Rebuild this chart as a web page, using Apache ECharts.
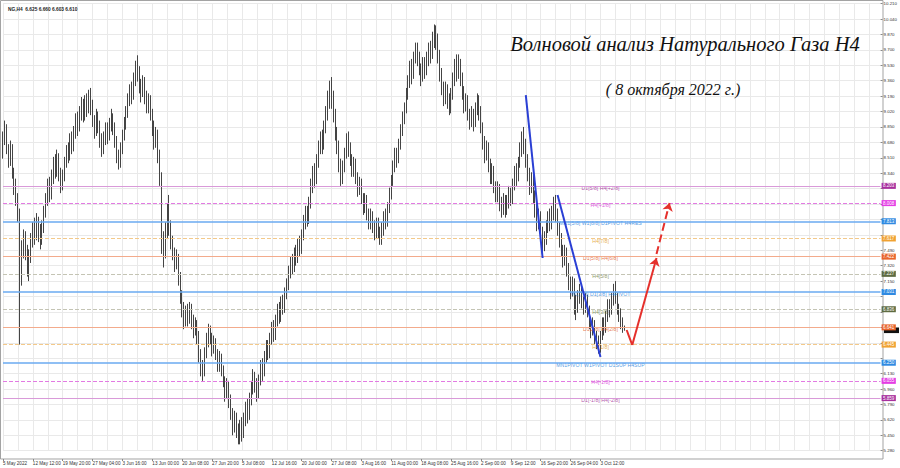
<!DOCTYPE html>
<html><head><meta charset="utf-8">
<script src="https://cdn.jsdelivr.net/npm/echarts@6/dist/echarts.min.js"></script>
<style>html,body{margin:0;padding:0;background:#fff}#c{width:900px;height:468px}</style>
</head><body><div id="c"></div>
<script>
const header = "NG,H4  6.625 6.660 6.603 6.610";
const titleText = "Волновой анализ Натурального Газа H4";
const subtitleText = "( 8 октября 2022 г.)";
const tickLabels = ["5 May 2022","12 May 12:00","19 May 20:00","27 May 04:00","3 Jun 16:00","13 Jun 00:00","20 Jun 08:00","27 Jun 20:00","5 Jul 08:00","12 Jul 16:00","20 Jul 00:00","27 Jul 08:00","3 Aug 16:00","11 Aug 00:00","18 Aug 08:00","25 Aug 16:00","2 Sep 00:00","9 Sep 12:00","16 Sep 20:00","26 Sep 04:00","3 Oct 12:00"];
const barsPerLabel = 16;
const slotCount = 471;

const opens = [
8.55,8.72,8.85,8.60,8.48,8.62,8.35,8.20,8.05,7.90,
7.20,7.45,7.60,7.48,7.30,7.42,7.60,7.72,7.65,7.78,
7.70,7.62,7.75,7.90,8.05,8.20,8.12,8.30,8.45,8.38,
8.50,8.35,8.22,8.30,8.45,8.58,8.52,8.70,8.62,8.78,
8.92,8.85,9.00,9.10,8.98,9.12,9.05,9.18,9.08,8.92,
8.80,8.95,8.85,8.70,8.60,8.72,8.82,8.75,8.88,8.95,
8.85,8.70,8.55,8.45,8.60,8.75,8.90,9.00,9.15,9.25,
9.20,9.38,9.50,9.45,9.30,9.22,9.35,9.20,9.08,9.15,
9.00,8.85,8.70,8.78,8.55,8.30,7.60,7.45,7.70,7.85,
7.75,7.60,7.45,7.35,7.42,7.20,7.00,6.85,6.70,6.80,
6.75,6.85,6.72,6.60,6.68,6.55,6.35,6.20,6.15,6.35,
6.50,6.60,6.52,6.40,6.48,6.35,6.22,6.30,6.18,6.05,
5.90,6.00,5.85,5.70,5.55,5.65,5.50,5.40,5.55,5.48,
5.62,5.75,5.68,5.85,5.98,6.10,6.02,5.90,6.05,6.20,
6.15,6.30,6.42,6.35,6.50,6.62,6.55,6.70,6.82,6.75,
6.90,6.85,7.00,7.10,7.25,7.35,7.30,7.45,7.40,7.55,
7.50,7.65,7.80,7.90,7.82,8.00,8.20,8.35,8.28,8.45,
8.62,8.70,8.65,8.85,9.00,9.15,9.28,9.20,9.00,8.80,
8.65,8.45,8.30,8.40,8.55,8.70,8.62,8.50,8.38,8.45,
8.30,8.15,8.22,8.08,7.95,8.05,7.90,7.80,7.88,7.75,
7.68,7.78,7.70,7.62,7.72,7.85,7.80,7.95,8.10,8.25,
8.40,8.55,8.48,8.65,8.80,8.95,9.05,9.20,9.35,9.50,
9.42,9.60,9.72,9.62,9.50,9.40,9.55,9.48,9.60,9.70,
9.65,9.80,9.90,9.82,9.65,9.45,9.30,9.18,9.28,9.15,
9.05,9.20,9.38,9.52,9.45,9.55,9.40,9.25,9.10,9.15,
9.00,8.90,9.00,8.88,9.05,9.15,9.02,8.85,8.70,8.55,
8.62,8.45,8.30,8.38,8.20,8.10,8.18,8.00,7.95,8.05,
7.92,8.02,8.12,8.05,8.20,8.35,8.28,8.45,8.60,8.72,
8.65,8.50,8.35,8.20,8.28,8.10,7.95,7.80,7.88,7.70,
7.55,7.62,7.75,7.85,7.78,7.90,8.00,7.88,7.75,7.62,
7.50,7.40,7.48,7.30,7.15,7.05,7.12,6.95,6.85,6.98,
7.05,6.92,6.85,6.95,6.82,6.70,6.62,6.68,6.55,6.48,
6.42,6.55,6.68,6.62,6.75,6.88,6.82,6.95,7.05,6.98,
6.85,6.78,6.70,6.625];
const closes = [
8.72,8.85,8.60,8.48,8.62,8.35,8.20,8.05,7.90,7.20,
7.45,7.60,7.48,7.30,7.42,7.60,7.72,7.65,7.78,7.70,
7.62,7.75,7.90,8.05,8.20,8.12,8.30,8.45,8.38,8.50,
8.35,8.22,8.30,8.45,8.58,8.52,8.70,8.62,8.78,8.92,
8.85,9.00,9.10,8.98,9.12,9.05,9.18,9.08,8.92,8.80,
8.95,8.85,8.70,8.60,8.72,8.82,8.75,8.88,8.95,8.85,
8.70,8.55,8.45,8.60,8.75,8.90,9.00,9.15,9.25,9.20,
9.38,9.50,9.45,9.30,9.22,9.35,9.20,9.08,9.15,9.00,
8.85,8.70,8.78,8.55,8.30,7.60,7.45,7.70,7.85,7.75,
7.60,7.45,7.35,7.42,7.20,7.00,6.85,6.70,6.80,6.75,
6.85,6.72,6.60,6.68,6.55,6.35,6.20,6.15,6.35,6.50,
6.60,6.52,6.40,6.48,6.35,6.22,6.30,6.18,6.05,5.90,
6.00,5.85,5.70,5.55,5.65,5.50,5.40,5.55,5.48,5.62,
5.75,5.68,5.85,5.98,6.10,6.02,5.90,6.05,6.20,6.15,
6.30,6.42,6.35,6.50,6.62,6.55,6.70,6.82,6.75,6.90,
6.85,7.00,7.10,7.25,7.35,7.30,7.45,7.40,7.55,7.50,
7.65,7.80,7.90,7.82,8.00,8.20,8.35,8.28,8.45,8.62,
8.70,8.65,8.85,9.00,9.15,9.28,9.20,9.00,8.80,8.65,
8.45,8.30,8.40,8.55,8.70,8.62,8.50,8.38,8.45,8.30,
8.15,8.22,8.08,7.95,8.05,7.90,7.80,7.88,7.75,7.68,
7.78,7.70,7.62,7.72,7.85,7.80,7.95,8.10,8.25,8.40,
8.55,8.48,8.65,8.80,8.95,9.05,9.20,9.35,9.50,9.42,
9.60,9.72,9.62,9.50,9.40,9.55,9.48,9.60,9.70,9.65,
9.80,9.90,9.82,9.65,9.45,9.30,9.18,9.28,9.15,9.05,
9.20,9.38,9.52,9.45,9.55,9.40,9.25,9.10,9.15,9.00,
8.90,9.00,8.88,9.05,9.15,9.02,8.85,8.70,8.55,8.62,
8.45,8.30,8.38,8.20,8.10,8.18,8.00,7.95,8.05,7.92,
8.02,8.12,8.05,8.20,8.35,8.28,8.45,8.60,8.72,8.65,
8.50,8.35,8.20,8.28,8.10,7.95,7.80,7.88,7.70,7.55,
7.62,7.75,7.85,7.78,7.90,8.00,7.88,7.75,7.62,7.50,
7.40,7.48,7.30,7.15,7.05,7.12,6.95,6.85,6.98,7.05,
6.92,6.85,6.95,6.82,6.70,6.62,6.68,6.55,6.48,6.42,
6.55,6.68,6.62,6.75,6.88,6.82,6.95,7.05,6.98,6.85,
6.78,6.70,6.62,6.61];
const lows = [
8.50,8.65,8.55,8.40,8.42,8.28,8.10,7.98,7.80,6.45,
7.10,7.40,7.38,7.20,7.15,7.35,7.52,7.55,7.60,7.58,
7.50,7.55,7.68,7.85,7.98,8.02,8.05,8.22,8.28,8.30,
8.25,8.12,8.15,8.25,8.40,8.45,8.48,8.55,8.58,8.72,
8.75,8.80,8.92,8.90,8.92,8.96,9.00,8.98,8.85,8.72,
8.75,8.78,8.62,8.52,8.55,8.65,8.66,8.70,8.80,8.76,
8.62,8.45,8.38,8.40,8.55,8.70,8.82,8.95,9.08,9.10,
9.15,9.30,9.35,9.22,9.12,9.18,9.10,9.00,9.00,8.92,
8.75,8.60,8.62,8.45,8.20,7.45,7.30,7.40,7.62,7.65,
7.50,7.38,7.25,7.28,7.10,6.90,6.75,6.62,6.65,6.65,
6.68,6.62,6.52,6.55,6.45,6.25,6.10,6.05,6.10,6.30,
6.42,6.45,6.32,6.35,6.28,6.15,6.15,6.10,5.98,5.82,
5.85,5.75,5.62,5.45,5.48,5.42,5.35,5.35,5.38,5.42,
5.55,5.58,5.62,5.78,5.90,5.92,5.82,5.85,6.00,6.05,
6.10,6.25,6.28,6.30,6.45,6.48,6.50,6.65,6.68,6.70,
6.78,6.80,6.95,7.05,7.18,7.22,7.25,7.32,7.35,7.42,
7.45,7.60,7.72,7.75,7.78,7.95,8.12,8.18,8.22,8.40,
8.55,8.55,8.60,8.78,8.92,9.05,9.05,8.90,8.70,8.55,
8.35,8.20,8.22,8.35,8.50,8.52,8.42,8.30,8.30,8.22,
8.08,8.10,8.00,7.88,7.90,7.82,7.72,7.72,7.68,7.60,
7.62,7.62,7.55,7.55,7.65,7.72,7.75,7.90,8.05,8.20,
8.35,8.40,8.45,8.60,8.75,8.88,9.00,9.15,9.28,9.32,
9.38,9.55,9.52,9.42,9.30,9.35,9.38,9.42,9.52,9.55,
9.60,9.72,9.70,9.55,9.35,9.20,9.08,9.10,9.05,8.98,
9.00,9.15,9.30,9.35,9.38,9.30,9.15,9.00,9.02,8.92,
8.82,8.85,8.80,8.85,8.98,8.92,8.78,8.60,8.45,8.48,
8.35,8.22,8.22,8.12,8.02,8.02,7.92,7.85,7.88,7.85,
7.88,7.95,7.98,8.00,8.15,8.20,8.25,8.40,8.52,8.55,
8.40,8.25,8.10,8.12,8.00,7.85,7.70,7.72,7.60,7.45,
7.48,7.55,7.68,7.70,7.72,7.82,7.80,7.65,7.52,7.42,
7.30,7.32,7.20,7.05,6.95,6.98,6.78,6.72,6.80,6.90,
6.85,6.78,6.80,6.75,6.62,6.52,6.55,6.45,6.40,6.35,
6.36,6.50,6.55,6.58,6.70,6.75,6.78,6.88,6.90,6.78,
6.70,6.62,6.58,6.603];
const highs = [
8.80,8.92,8.88,8.66,8.70,8.66,8.40,8.28,8.12,7.95,
7.60,7.72,7.70,7.55,7.50,7.68,7.80,7.85,7.90,7.86,
7.78,7.82,7.98,8.12,8.28,8.30,8.38,8.52,8.55,8.60,
8.56,8.40,8.38,8.52,8.65,8.68,8.78,8.80,8.86,9.00,
9.02,9.08,9.18,9.16,9.20,9.22,9.26,9.28,9.15,8.98,
9.05,9.02,8.92,8.78,8.80,8.90,8.90,8.95,9.05,9.00,
8.90,8.75,8.60,8.68,8.82,8.96,9.08,9.22,9.32,9.35,
9.45,9.58,9.64,9.52,9.38,9.42,9.40,9.25,9.22,9.20,
9.05,8.92,8.85,8.82,8.60,8.35,7.70,7.80,8.00,8.10,
7.82,7.65,7.52,7.50,7.45,7.25,7.05,6.92,6.88,6.90,
6.92,6.90,6.78,6.75,6.72,6.60,6.40,6.28,6.42,6.58,
6.68,6.66,6.58,6.55,6.52,6.40,6.38,6.35,6.22,6.10,
6.08,6.05,5.90,5.75,5.72,5.70,5.58,5.62,5.65,5.70,
5.82,5.85,5.92,6.05,6.18,6.15,6.08,6.12,6.28,6.30,
6.38,6.50,6.50,6.58,6.70,6.72,6.78,6.90,6.92,6.98,
7.00,7.08,7.18,7.32,7.42,7.45,7.52,7.55,7.62,7.65,
7.72,7.88,7.98,7.98,8.08,8.28,8.42,8.45,8.55,8.70,
8.80,8.82,8.92,9.08,9.25,9.36,9.40,9.25,9.05,8.85,
8.70,8.50,8.48,8.62,8.78,8.80,8.68,8.55,8.52,8.50,
8.35,8.30,8.28,8.12,8.12,8.10,7.95,7.95,7.92,7.82,
7.85,7.85,7.75,7.80,7.92,7.95,8.02,8.18,8.32,8.48,
8.62,8.62,8.72,8.88,9.02,9.12,9.28,9.42,9.58,9.60,
9.68,9.78,9.78,9.68,9.55,9.62,9.62,9.68,9.78,9.80,
9.90,9.98,9.97,9.88,9.70,9.50,9.35,9.35,9.32,9.22,
9.28,9.45,9.60,9.65,9.65,9.60,9.45,9.30,9.22,9.20,
9.05,9.08,9.05,9.12,9.22,9.20,9.08,8.90,8.75,8.70,
8.68,8.50,8.45,8.42,8.25,8.25,8.22,8.08,8.12,8.10,
8.10,8.20,8.18,8.28,8.42,8.45,8.52,8.68,8.80,8.85,
8.72,8.55,8.40,8.35,8.32,8.15,8.00,7.95,7.92,7.75,
7.70,7.82,7.92,7.95,7.98,8.08,8.10,7.95,7.80,7.68,
7.55,7.55,7.52,7.35,7.20,7.20,7.18,7.00,7.05,7.12,
7.10,6.98,7.02,7.00,6.88,6.75,6.75,6.72,6.60,6.55,
6.60,6.75,6.75,6.82,6.95,6.95,7.02,7.12,7.15,7.02,
6.90,6.85,6.75,6.66];

const levelValues = [8.203, 8.008, 7.813, 7.617, 7.422, 7.227, 7.031, 6.836, 6.641, 6.445, 6.250, 6.055, 5.859];
const levelNotes = ["D1[5/8] H4[+2/8]","H4[+1/8]","MN1[5/8] W1[8/8] D1PIVOT H4RES","H4[7/8]","D1[5/8] H4[6/8]","H4[5/8]","W1[7/8] D1[3/8] H4PIVOT","H4[3/8]","D1[2/8] H4[2/8]","H4[1/8]","MN1PIVOT W1PIVOT D1SUP H4SUP","H4[-1/8]","D1[-1/8] H4[-2/8]"];
const levelKinds = ["p","m","b","g","o","v","b","v","o","g","b","m","p"];
const lastPrice = 6.610;
const noteSlot = 320;

// wave annotations, in (bar slot, price)
const waveA = [[280, 9.20], [289, 7.405]];
const waveB = [[297, 8.10], [320, 6.314]];
const forecastSolid = [[334, 6.611], [337, 6.446], [350, 7.405]];
const forecastDashed = [[350, 7.45], [357, 8.012]];

const kindStyle = {
  p: {line: '#d99ad9', type: 'solid', w: 1, tag: '#a8309e', text: '#a02a96'},
  m: {line: '#e27ae2', type: 'dashed', w: 1, tag: '#e43ce4', text: '#d632d6'},
  b: {line: '#6aaaf0', type: 'solid', w: 1.6, tag: '#2f8ae2', text: '#2a7fd8'},
  g: {line: '#f3c98a', type: 'dashed', w: 1, tag: '#f0a232', text: '#e09a1a'},
  o: {line: '#f3ab8c', type: 'solid', w: 1, tag: '#e8642c', text: '#e05a24'},
  v: {line: '#c4c4b4', type: 'dashed', w: 1, tag: '#5e6b42', text: '#6f7d44'}
};

const cats = Array.from({length: slotCount}, (_, i) => String(i));
const candle = opens.map((o, i) => [o, closes[i], lows[i], highs[i]]);
const isLabelSlot = (i) => i % barsPerLabel === 0 && i / barsPerLabel < tickLabels.length;
// price-scale labels that sit under a level tag are covered by it
const coveredByTag = (v) => levelValues.some((l) => Math.abs(l - v) < 0.055);

const tagLabel = (txt, bg) => ({show: true, position: 'end', distance: 1, formatter: txt, backgroundColor: bg, color: '#fff', fontSize: 4.5, padding: [0.5, 1.5, 0.5, 1.5], fontFamily: 'Liberation Sans'});
const levelLines = levelValues.map((v, i) => {
  const s = kindStyle[levelKinds[i]];
  return {yAxis: v, lineStyle: {color: s.line, type: s.type, width: s.w}, label: tagLabel(v.toFixed(3), s.tag)};
});

const noteData = levelValues.map((v, i) => ({
  value: [noteSlot, v],
  label: {show: true, formatter: levelNotes[i], color: kindStyle[levelKinds[i]].text, fontSize: 5.2, position: 'inside', offset: [0, 2], fontFamily: 'Liberation Sans'}
}));

const seg = (a, b, color, type, arrow) => [
  {coord: a, symbol: 'none'},
  {coord: b, symbol: arrow ? 'arrow' : 'none', symbolSize: 8, lineStyle: {color, type, width: 2}}
];
const annoLines = [
  seg(waveA[0], waveA[1], '#2a3fd4', 'solid', false),
  seg(waveB[0], waveB[1], '#2a3fd4', 'solid', false),
  seg(forecastSolid[0], forecastSolid[1], '#e5302c', 'solid', false),
  seg(forecastSolid[1], forecastSolid[2], '#e5302c', 'solid', true),
  seg(forecastDashed[0], forecastDashed[1], '#e5302c', 'dashed', true)
];

const frame = {id: 'frame', type: 'rect', silent: true, z: 0, shape: {x: 0.5, y: 0.5, width: 882.5, height: 458.5}, style: {fill: 'none', stroke: '#a3a3a3', lineWidth: 1}};

const chart = echarts.init(document.getElementById('c'), null, {renderer: 'svg'});
chart.setOption({
  animation: false,
  backgroundColor: '#fff',
  textStyle: {fontFamily: 'Liberation Sans'},
  title: [
    {text: header, left: 3, top: 2, textStyle: {fontSize: 4.8, color: '#222', fontWeight: 'bold', fontFamily: 'Liberation Sans'}},
    {text: titleText, left: 680, top: 29, textAlign: 'center', textStyle: {fontFamily: 'Liberation Serif', fontStyle: 'italic', fontWeight: 'normal', fontSize: 20.5, color: '#111'}},
    {text: subtitleText, left: 668, top: 76, textAlign: 'center', textStyle: {fontFamily: 'Liberation Serif', fontStyle: 'italic', fontWeight: 'normal', fontSize: 16, color: '#111'}}
  ],
  graphic: [frame],
  grid: {left: 1.7, right: 17.05, top: 3.6, bottom: 17.3, containLabel: false},
  xAxis: {
    type: 'category', data: cats, boundaryGap: false, offset: 8.3,
    axisLine: {show: false},
    axisTick: {show: true, length: 2, interval: (i) => isLabelSlot(i), lineStyle: {color: '#888'}},
    axisLabel: {show: true, interval: (i) => isLabelSlot(i), formatter: (v, i) => isLabelSlot(i) ? tickLabels[i / barsPerLabel] : '', fontSize: 4.6, color: '#333', align: 'left', margin: 2},
    splitLine: {show: true, interval: 7, lineStyle: {color: '#e9e9e9', width: 1}}
  },
  yAxis: {
    type: 'value', position: 'right', min: 5.28, max: 10.21, interval: 0.17, scale: true,
    axisLine: {show: false},
    axisTick: {show: true, length: 2, lineStyle: {color: '#888'}},
    axisLabel: {fontSize: 4.4, color: '#333', margin: 3, formatter: (v) => coveredByTag(v) ? '' : v.toFixed(3)},
    splitLine: {show: true, lineStyle: {color: '#e9e9e9', width: 1}}
  },
  series: [
    {
      type: 'candlestick', data: candle, barWidth: 1.3, z: 3,
      itemStyle: {color: '#444', color0: '#444', borderColor: '#444', borderColor0: '#444', borderWidth: 1}
    },
    {
      type: 'scatter', data: noteData, symbolSize: 0, z: 4, silent: true,
      markLine: {silent: true, symbol: 'none', animation: false, data: levelLines}
    },
    {
      type: 'scatter', data: [], z: 5, silent: true,
      markLine: {silent: true, symbol: 'none', animation: false, data: annoLines}
    }
  ]
});
// current-price marker (mostly hidden under the nearest level tag), placed through the price scale
const py = chart.convertToPixel({yAxisIndex: 0}, lastPrice);
chart.setOption({graphic: [frame, {id: 'bid', type: 'rect', silent: true, z: 1, shape: {x: 884, y: py - 2.6, width: 15, height: 5.6}, style: {fill: '#111'}}]});
</script></body></html>
